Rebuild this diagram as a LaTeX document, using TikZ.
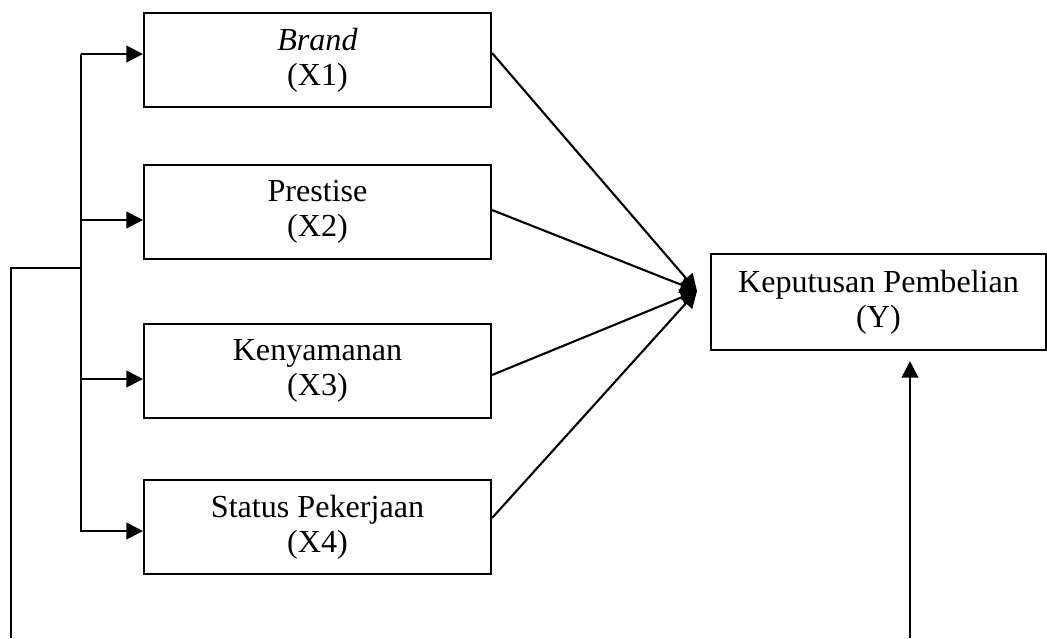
\documentclass[tikz,border=0pt]{standalone}
\usepackage{fontspec}
\setmainfont{Liberation Serif}
\usetikzlibrary{arrows.meta}
\tikzset{
  var box/.style={
    draw,
    minimum width={#1*0.38pt},
    minimum height={94*0.38pt},
    align=center,
    font=\fontsize{12.2}{13.4}\selectfont,
  },
  tip/.style={
    -{Triangle[length=6.3pt,width=6.3pt]},
  }
}

\begin{document}
\begin{tikzpicture}[x=0.38pt, y=-0.38pt, line width=0.8pt]
    \useasboundingbox (0,0) rectangle (1047,638);

    \node [var box=347] (x1) at (317.5,60) {\textit{Brand}\\(X1)};
    \node [var box=347] (x2) at (317.5,212) {Prestise\\(X2)};
    \node [var box=347] (x3) at (317.5,371) {Kenyamanan\\(X3)};
    \node [var box=347] (x4) at (317.5,527) {Status Pekerjaan\\(X4)};
    \node [var box=335, minimum height={96*0.38pt}] (y) at (878.5,302) {Keputusan Pembelian\\(Y)};

    \coordinate (top) at (81,54);
    \coordinate (bottom) at (81,532);
    \coordinate (split) at (81,268);
    \coordinate (corner) at (11,268);
    \coordinate (left end) at (11,638);
    \coordinate (right end) at (910,638);
    \coordinate (meet) at (697,291);

    % trunk and branches to the boxes
    \draw (top) -- (bottom);
    \foreach \b/\h in {x1/54, x2/220, x3/379, x4/531}
        \draw [tip] (81,\h) -- (\b.west |- 0,\h);

    % from every box to Y
    \foreach \b/\h in {x1/53, x2/210, x3/375, x4/518}
        \draw [tip] (\b.east |- 0,\h) -- (meet);

    % outer line
    \draw (split) -- (corner) -- (left end);
    \draw [tip] (right end) -- ([yshift=-3.8pt]y.south -| right end);
\end{tikzpicture}
\end{document}
